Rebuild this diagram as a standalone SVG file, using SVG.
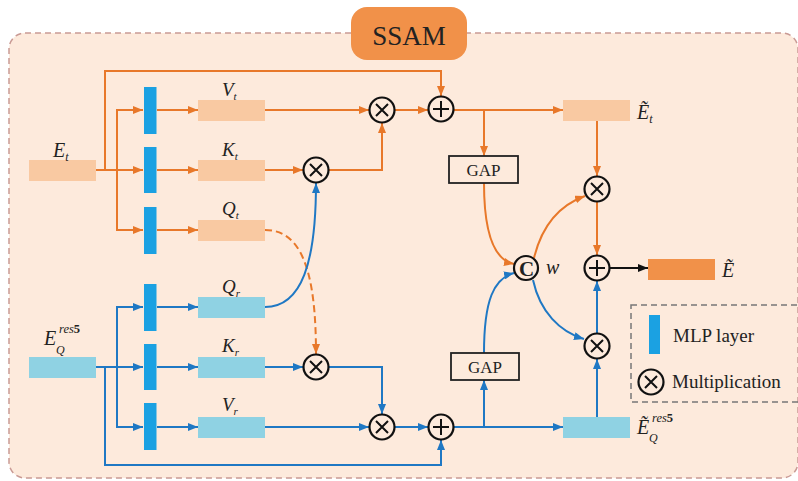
<svg xmlns="http://www.w3.org/2000/svg" width="798" height="481" viewBox="0 0 798 481">
  <defs>
    <marker id="arO" viewBox="0 0 10 8" refX="10" refY="4" markerWidth="10" markerHeight="8" markerUnits="userSpaceOnUse" orient="auto"><path d="M0,0 L10,4 L0,8 z" fill="#e8782a"/></marker>
    <marker id="arB" viewBox="0 0 10 8" refX="10" refY="4" markerWidth="10" markerHeight="8" markerUnits="userSpaceOnUse" orient="auto"><path d="M0,0 L10,4 L0,8 z" fill="#1f78c4"/></marker>
    <marker id="arK" viewBox="0 0 10 8" refX="10" refY="4" markerWidth="10" markerHeight="8" markerUnits="userSpaceOnUse" orient="auto"><path d="M0,0 L10,4 L0,8 z" fill="#111"/></marker>
    <g id="mul"><circle r="12.5" fill="none" stroke="#111" stroke-width="2.2"/><path d="M-6,-6 L6,6 M6,-6 L-6,6" stroke="#111" stroke-width="2"/></g>
    <g id="add"><circle r="12.5" fill="none" stroke="#111" stroke-width="2.2"/><path d="M-8,0 H8 M0,-8 V8" stroke="#111" stroke-width="2"/></g>
  </defs>
  <style>
    .o { fill: none; stroke: #e8782a; stroke-width: 2; }
    .b { fill: none; stroke: #1f78c4; stroke-width: 2; }
    .k { fill: none; stroke: #111; stroke-width: 2; }
    .ao { marker-end: url(#arO); }
    .ab { marker-end: url(#arB); }
    .fo { fill: #f9c9a2; }
    .fb { fill: #8fd2e3; }
    .bar { fill: #1ba1e2; }
    .gap { fill: none; stroke: #222; stroke-width: 1.8; }
    text { font-family: "Liberation Serif", "Times New Roman", serif; fill: #222; }
    .m { font-style: italic; }
  </style>

  <!-- module frame -->
  <rect x="9" y="33" width="789" height="445" rx="16" fill="#fdeadc" stroke="#c99a94" stroke-width="1.5" stroke-dasharray="6,4"/>
  <g id="title">
    <rect x="351" y="7" width="116" height="53" rx="16" fill="#f19149"/>
    <text x="409" y="45" font-size="27" text-anchor="middle">SSAM</text>
  </g>

  <!-- connectors -->
  <g id="connectors">
    <!-- text branch -->
    <path class="o ao" d="M96,170 H143"/>
    <path class="o ao" d="M117,170 V110 H143"/>
    <path class="o ao" d="M117,170 V230 H143"/>
    <path class="o ao" d="M105,170 V71 H441 V96"/>
    <path class="o ao" d="M157,110 H198"/>
    <path class="o ao" d="M157,170 H198"/>
    <path class="o ao" d="M157,230 H198"/>
    <path class="o ao" d="M265,110 H369"/>
    <path class="o ao" d="M265,170 H303"/>
    <path class="o ao" d="M329,170 H382 V123"/>
    <path class="o ao" d="M395,110 H428"/>
    <path class="o ao" d="M454,110 H563"/>
    <path class="o ao" d="M484,110 V156"/>
    <path class="o ao" d="M597,121 V176"/>
    <path class="o ao" d="M597,202 V255"/>
    <path class="o ao" d="M484,183 C484,232 494,260 514,264"/>
    <path class="o ao" d="M534,258 C542,225 560,205 585,196"/>
    <path class="o ao" d="M265,230 C302,230 316,272 316,354" stroke-dasharray="7,4"/>
    <!-- image branch -->
    <path class="b ab" d="M96,367 H143"/>
    <path class="b ab" d="M117,367 V307 H143"/>
    <path class="b ab" d="M117,367 V427 H143"/>
    <path class="b ab" d="M105,367 V465 H441 V440"/>
    <path class="b ab" d="M157,307 H198"/>
    <path class="b ab" d="M157,367 H198"/>
    <path class="b ab" d="M157,427 H198"/>
    <path class="b ab" d="M265,307 C302,307 316,262 316,183"/>
    <path class="b ab" d="M265,367 H303"/>
    <path class="b ab" d="M329,367 H382 V414"/>
    <path class="b ab" d="M265,427 H369"/>
    <path class="b ab" d="M395,427 H428"/>
    <path class="b ab" d="M454,427 H563"/>
    <path class="b ab" d="M484,427 V380"/>
    <path class="b ab" d="M484,353 C484,300 494,278 514,273"/>
    <path class="b ab" d="M533,280 C540,312 560,332 584,339"/>
    <path class="b ab" d="M597,417 V359"/>
    <path class="b ab" d="M597,333 V281"/>
    <!-- fused output -->
    <path class="k" d="M610,268 H648" marker-end="url(#arK)"/>
  </g>

  <!-- inputs -->
  <g id="E_t">
    <rect class="fo" x="29" y="160" width="67" height="21"/>
    <text class="m" x="53" y="157" font-size="20">E<tspan font-size="12" dy="4">t</tspan></text>
  </g>
  <g id="E_Q">
    <rect class="fb" x="29" y="357" width="67" height="21"/>
    <text class="m" x="44" y="345" font-size="20">E</text>
    <text class="m" x="56" y="354" font-size="12">Q</text>
    <text class="m" x="59" y="333" font-size="12.5">res<tspan font-style="normal" font-weight="bold">5</tspan></text>
  </g>

  <!-- MLP layers -->
  <g id="mlp_t">
    <rect class="bar" x="144" y="87" width="12.5" height="47"/>
    <rect class="bar" x="144" y="147" width="12.5" height="46"/>
    <rect class="bar" x="144" y="207" width="12.5" height="47"/>
  </g>
  <g id="mlp_r">
    <rect class="bar" x="144" y="284" width="12.5" height="47"/>
    <rect class="bar" x="144" y="344" width="12.5" height="46"/>
    <rect class="bar" x="144" y="403" width="12.5" height="47"/>
  </g>

  <!-- projections -->
  <g id="V_t"><rect class="fo" x="198" y="100" width="67" height="21"/><text class="m" x="222" y="96" font-size="19">V<tspan font-size="11" dy="4">t</tspan></text></g>
  <g id="K_t"><rect class="fo" x="198" y="160" width="67" height="21"/><text class="m" x="222" y="156" font-size="19">K<tspan font-size="11" dy="4">t</tspan></text></g>
  <g id="Q_t"><rect class="fo" x="198" y="220" width="67" height="21"/><text class="m" x="222" y="215" font-size="19">Q<tspan font-size="11" dy="4">t</tspan></text></g>
  <g id="Q_r"><rect class="fb" x="198" y="297" width="67" height="21"/><text class="m" x="222" y="293" font-size="19">Q<tspan font-size="11" dy="4">r</tspan></text></g>
  <g id="K_r"><rect class="fb" x="198" y="357" width="67" height="21"/><text class="m" x="222" y="352" font-size="19">K<tspan font-size="11" dy="4">r</tspan></text></g>
  <g id="V_r"><rect class="fb" x="198" y="417" width="67" height="21"/><text class="m" x="222" y="411" font-size="19">V<tspan font-size="11" dy="4">r</tspan></text></g>

  <!-- operators -->
  <g id="mul_kt"><use href="#mul" x="316" y="170"/></g>
  <g id="mul_vt"><use href="#mul" x="382" y="110"/></g>
  <g id="add_t"><use href="#add" x="441" y="109"/></g>
  <g id="mul_kr"><use href="#mul" x="316" y="367"/></g>
  <g id="mul_vr"><use href="#mul" x="382" y="427"/></g>
  <g id="add_r"><use href="#add" x="441" y="427"/></g>
  <g id="mul_et"><use href="#mul" x="597" y="189"/></g>
  <g id="mul_eq"><use href="#mul" x="597" y="346"/></g>
  <g id="add_out"><use href="#add" x="597" y="268"/></g>
  <g id="concat">
    <circle cx="526" cy="268" r="12" fill="none" stroke="#111" stroke-width="2.2"/>
    <text x="526.5" y="275.5" font-size="21" font-weight="bold" text-anchor="middle">C</text>
    <text class="m" x="546" y="274" font-size="20">w</text>
  </g>

  <!-- pooling -->
  <g id="gap_t"><rect class="gap" x="449" y="156" width="69" height="27"/><text x="483.5" y="176" font-size="17" text-anchor="middle">GAP</text></g>
  <g id="gap_r"><rect class="gap" x="451" y="353" width="68" height="27"/><text x="485" y="373" font-size="17" text-anchor="middle">GAP</text></g>

  <!-- enhanced features -->
  <g id="Et_tilde">
    <rect class="fo" x="563" y="100" width="67" height="21"/>
    <text class="m" x="637" y="119" font-size="20">Ẽ<tspan font-size="12" dy="4">t</tspan></text>
  </g>
  <g id="EQ_tilde">
    <rect class="fb" x="563" y="417" width="67" height="21"/>
    <text class="m" x="637" y="434" font-size="20">Ẽ</text>
    <text class="m" x="649" y="442" font-size="12">Q</text>
    <text class="m" x="652" y="422" font-size="12.5">res<tspan font-style="normal" font-weight="bold">5</tspan></text>
  </g>
  <g id="E_out">
    <rect x="648" y="259" width="67" height="21" fill="#f19149"/>
    <text class="m" x="722" y="277" font-size="20">Ẽ</text>
  </g>

  <!-- legend -->
  <g id="legend">
    <rect x="631" y="305" width="170" height="97" fill="none" stroke="#777" stroke-width="1.5" stroke-dasharray="6,4"/>
    <rect class="bar" x="649" y="315" width="11" height="39"/>
    <text x="673" y="342" font-size="19">MLP layer</text>
    <use href="#mul" x="651" y="382"/>
    <text x="672" y="388" font-size="19">Multiplication</text>
  </g>
</svg>
